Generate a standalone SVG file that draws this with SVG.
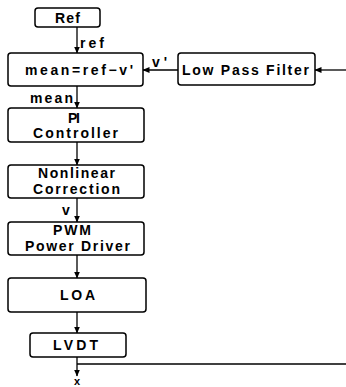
<svg xmlns="http://www.w3.org/2000/svg" width="346" height="387" viewBox="0 0 346 387">
<defs>
<marker id="ah" markerWidth="7" markerHeight="7" refX="6.5" refY="3.5" orient="auto" markerUnits="userSpaceOnUse">
<path d="M0,0.5 L7,3.5 L0,6.5 Z" fill="#000"/>
</marker>
</defs>
<style>
.box{fill:#fff;stroke:#000;stroke-width:1.5}
.t{font-family:"Liberation Sans",Arial,sans-serif;font-weight:bold;font-size:14px;fill:#000}
.c{stroke:#000;stroke-width:1.3;fill:none}
</style>
<rect width="346" height="387" fill="#fff"/>
<g id="connectors">
<line class="c" x1="77" y1="27" x2="77" y2="53" marker-end="url(#ah)"/>
<line class="c" x1="77" y1="86" x2="77" y2="108" marker-end="url(#ah)"/>
<line class="c" x1="77" y1="142" x2="77" y2="165" marker-end="url(#ah)"/>
<line class="c" x1="77" y1="198" x2="77" y2="222" marker-end="url(#ah)"/>
<line class="c" x1="77" y1="255" x2="77" y2="278" marker-end="url(#ah)"/>
<line class="c" x1="77" y1="312" x2="77" y2="333" marker-end="url(#ah)"/>
<line class="c" x1="77" y1="357" x2="77" y2="376" marker-end="url(#ah)"/>
<line class="c" x1="77" y1="364" x2="346" y2="364"/>
<line class="c" x1="346" y1="70" x2="315" y2="70" marker-end="url(#ah)"/>
<line class="c" x1="178" y1="70" x2="143" y2="70" marker-end="url(#ah)"/>
<text class="t" x="80" y="48" textLength="24" lengthAdjust="spacing">ref</text>
<text class="t" x="152" y="67" textLength="15" lengthAdjust="spacing">v'</text>
<text class="t" x="30" y="103" textLength="43" lengthAdjust="spacing">mean</text>
<text class="t" x="62" y="215">v</text>
<text class="t" x="77" y="385" text-anchor="middle" style="font-size:11px">x</text>
</g>
<g id="ref">
<rect class="box" x="35" y="8" width="65" height="19" rx="3"/>
<text class="t" x="67.5" y="22.5" text-anchor="middle" textLength="25" lengthAdjust="spacing">Ref</text>
</g>
<g id="mean">
<rect class="box" x="8" y="53" width="135" height="33" rx="3"/>
<text class="t" x="25" y="75" textLength="108" lengthAdjust="spacing">mean=ref−v'</text>
</g>
<g id="lpf">
<rect class="box" x="178" y="53" width="137" height="32" rx="3"/>
<text class="t" x="182" y="75" textLength="127" lengthAdjust="spacing">Low Pass Filter</text>
</g>
<g id="pi">
<rect class="box" x="8" y="108" width="136" height="34" rx="3"/>
<text class="t" x="68" y="122.5" textLength="12" lengthAdjust="spacing">PI</text>
<text class="t" x="33" y="138" textLength="85" lengthAdjust="spacing">Controller</text>
</g>
<g id="nonlinear">
<rect class="box" x="8" y="165" width="136" height="33" rx="3"/>
<text class="t" x="38" y="178" textLength="77" lengthAdjust="spacing">Nonlinear</text>
<text class="t" x="33" y="193.5" textLength="87" lengthAdjust="spacing">Correction</text>
</g>
<g id="pwm">
<rect class="box" x="8" y="222" width="136" height="33" rx="3"/>
<text class="t" x="53" y="235" textLength="38" lengthAdjust="spacing">PWM</text>
<text class="t" x="25" y="251" textLength="105" lengthAdjust="spacing">Power Driver</text>
</g>
<g id="loa">
<rect class="box" x="8" y="278" width="138" height="34" rx="3"/>
<text class="t" x="60" y="300" textLength="35" lengthAdjust="spacing">LOA</text>
</g>
<g id="lvdt">
<rect class="box" x="30" y="333" width="96" height="24" rx="3"/>
<text class="t" x="53" y="350" textLength="45" lengthAdjust="spacing">LVDT</text>
</g>
</svg>
